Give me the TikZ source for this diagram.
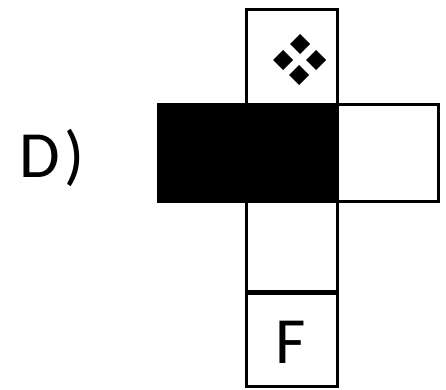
\documentclass[tikz,border=0pt]{standalone}
\usepackage{fontspec}
\setmainfont{Carlito}
\begin{document}
\begin{tikzpicture}[x=1pt,y=-1pt,
  cell/.style={draw=black,line width=2.6pt,minimum width=91pt,minimum height=95pt,inner sep=0pt,anchor=north west},
  lbl/.style={inner sep=0pt,font=\fontsize{66}{66}\selectfont}]
\useasboundingbox (0,0) rectangle (446,389);
\node[cell,fill=white] (top) at (245,8) {};
\node[cell,fill=black,minimum width=88pt,minimum height=97pt] (left) at (157,103) {};
\node[cell,fill=black,minimum height=97pt] (mid) at (245,103) {};
\node[cell,fill=white,minimum width=101pt,minimum height=97pt] (right) at (336,103) {};
\node[cell,fill=white,minimum height=90pt] (low) at (245,200) {};
\node[cell,fill=white,minimum height=93pt] (bot) at (245,292) {};
\draw[line width=4pt] (low.south west) -- (low.south east);
\fill (300,34) -- (310,44) -- (300,54) -- (290,44) -- cycle;
\fill (299,65) -- (309,75) -- (299,85) -- (289,75) -- cycle;
\fill (283,50) -- (293,60) -- (283,70) -- (273,60) -- cycle;
\fill (316,50) -- (326,60) -- (316,70) -- (306,60) -- cycle;
\node[lbl,anchor=base west] (D) at (19,177) {D\kern5pt)};
\node[lbl,anchor=base] (F) at (291,363) {F};
\end{tikzpicture}
\end{document}
